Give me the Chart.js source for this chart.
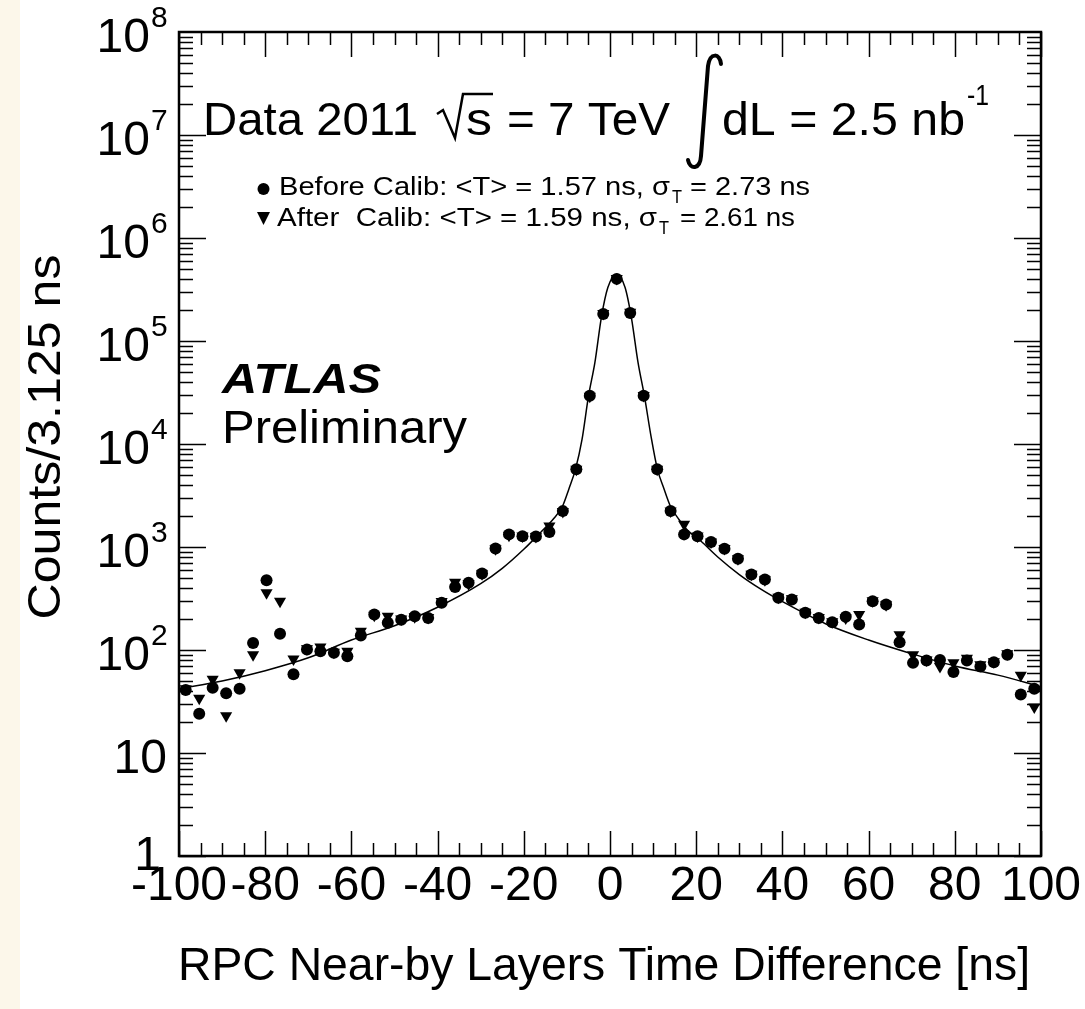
<!DOCTYPE html>
<html><head><meta charset="utf-8">
<script src="https://cdn.jsdelivr.net/npm/chart.js@4.4.0/dist/chart.umd.min.js"></script>
<style>html,body{margin:0;padding:0;background:#fff;overflow:hidden}canvas{display:block}</style>
</head><body>
<canvas id="c" width="1085" height="1009"></canvas>
<script>
// ---- data ----
const binCenters = [-98.44,-95.31,-92.19,-89.06,-85.94,-82.81,-79.69,-76.56,-73.44,-70.31,-67.19,-64.06,-60.94,-57.81,-54.69,-51.56,-48.44,-45.31,-42.19,-39.06,-35.94,-32.81,-29.69,-26.56,-23.44,-20.31,-17.19,-14.06,-10.94,-7.81,-4.69,-1.56,1.56,4.69,7.81,10.94,14.06,17.19,20.31,23.44,26.56,29.69,32.81,35.94,39.06,42.19,45.31,48.44,51.56,54.69,57.81,60.94,64.06,67.19,70.31,73.44,76.56,79.69,82.81,85.94,89.06,92.19,95.31,98.44];
const beforeCalib = [41,24,43,38,42,117,476,144,58,101,97,94,87,138,221,184,197,213,205,287,410,450,553,969,1326,1270,1262,1400,2230,5690,29400,183000,401000,187000,29400,5690,2234,1326,1270,1117,962,769,541,484,321,309,230,205,186,210,177,298,277,119,75,79,80,61,79,69,76,90,37,42];
const afterCalib = [42,34,52,23,60,90,359,298,82,103,107,95,97,152,218,213,200,210,207,295,454,440,550,960,1300,1280,1265,1600,2210,5700,29000,185000,405000,190000,29600,5700,2240,1660,1280,1120,965,770,545,480,325,315,232,207,188,205,221,300,275,141,90,80,69,75,83,72,77,92,57,28];
const fitX = [-100,-90,-80,-70,-60,-50,-40,-30,-25,-20,-16,-13,-11,-9.5,-8,-6.5,-5,-3.5,-2,-0.5,1.57,3.5,5,6.5,8,9.5,11,12.5,14,16,18,21,25,30,35,40,50,60,70,80,90,100];
const fitY = [42,50,63,84,125,172,260,440,620,950,1400,1900,2500,3700,5700,11000,29000,62000,170000,330000,445000,330000,165000,62000,29000,12000,5700,3700,2500,1850,1450,1150,800,540,390,295,180,125,92,70,57,44];
const xTickValues = [-100,-80,-60,-40,-20,0,20,40,60,80,100];
const xTickLabels = ['-100','-80','-60','-40','-20','0','20','40','60','80','100'];
const yTickValues = [1,10,100,1e3,1e4,1e5,1e6,1e7,1e8];
const yTickBase = ['1','10','10','10','10','10','10','10','10'];
const yTickExp = ['','','2','3','4','5','6','7','8'];

const FONT = '"Liberation Sans", Arial, sans-serif';

function txt(ctx, s, x, y, font, opts) {
  opts = opts || {};
  ctx.save();
  ctx.font = font; ctx.fillStyle = '#000';
  ctx.textBaseline = opts.baseline || 'alphabetic';
  const w = ctx.measureText(s).width;
  const sx = opts.width ? opts.width / w : (opts.sx || 1);
  let ax = x;
  if (opts.align === 'right') ax = x - w * sx;
  else if (opts.align === 'center') ax = x - w * sx / 2;
  ctx.translate(ax, y); ctx.scale(sx, opts.sy || 1);
  ctx.textAlign = 'left';
  ctx.fillText(s, 0, 0);
  ctx.restore();
}

const decor = {
  id: 'decor',
  beforeDraw(chart) {
    const ctx = chart.ctx;
    ctx.save();
    ctx.fillStyle = '#ffffff'; ctx.fillRect(0, 0, chart.width, chart.height);
    ctx.fillStyle = '#fcf7ea'; ctx.fillRect(0, 0, 20, chart.height);
    ctx.restore();
  },
  afterDraw(chart) {
    const ctx = chart.ctx, xs = chart.scales.x, ys = chart.scales.y, a = chart.chartArea;
    ctx.save();
    ctx.strokeStyle = '#000'; ctx.lineWidth = 1.5;
    // ticks on all four sides, pointing inward
    ctx.beginPath();
    for (let v = -100; v <= 100; v += 5) {
      const px = Math.round(xs.getPixelForValue(v)) + 0.5;
      const len = (v % 20 === 0) ? 25 : 13;
      ctx.moveTo(px, a.bottom); ctx.lineTo(px, a.bottom - len);
      ctx.moveTo(px, a.top); ctx.lineTo(px, a.top + len);
    }
    for (let e = 0; e < 8; e++) {
      for (let m = 1; m <= 9; m++) {
        const py = Math.round(ys.getPixelForValue(m * Math.pow(10, e))) + 0.5;
        const len = (m === 1) ? 27 : 14;
        ctx.moveTo(a.left, py); ctx.lineTo(a.left + len, py);
        ctx.moveTo(a.right, py); ctx.lineTo(a.right - len, py);
      }
    }
    ctx.stroke();
    ctx.lineWidth = 2.5;
    ctx.strokeRect(a.left, a.top, a.right - a.left, a.bottom - a.top);

    // x tick labels
    xTickValues.forEach((v, i) => {
      txt(ctx, xTickLabels[i], xs.getPixelForValue(v), a.bottom + 44, '48px ' + FONT, {align: 'center'});
    });
    // y tick labels
    yTickValues.forEach((v, i) => {
      const py = ys.getPixelForValue(v);
      if (yTickExp[i]) {
        txt(ctx, yTickBase[i], 150, py + 20, '48px ' + FONT, {align: 'right'});
        txt(ctx, yTickExp[i], 151, py - 5, '30px ' + FONT);
      } else if (yTickBase[i] === '10') {
        txt(ctx, yTickBase[i], 167, py + 20, '48px ' + FONT, {align: 'right'});
      } else {
        txt(ctx, yTickBase[i], 161, py + 14, '48px ' + FONT, {align: 'right'});
      }
    });
    // axis titles
    txt(ctx, 'RPC Near-by Layers Time Difference [ns]', 178, 980, '46px ' + FONT, {width: 852});
    ctx.save();
    ctx.translate(60, 437); ctx.rotate(-Math.PI / 2);
    txt(ctx, 'Counts/3.125 ns', 0, 0, '46px ' + FONT, {align: 'center', width: 365});
    ctx.restore();

    // header text
    txt(ctx, 'Data 2011', 203, 135, '46px ' + FONT, {width: 215});
    ctx.lineWidth = 2.5; ctx.lineJoin = 'miter';
    ctx.beginPath();
    ctx.moveTo(437, 114); ctx.lineTo(443, 110); ctx.lineTo(455, 138); ctx.lineTo(463, 94); ctx.lineTo(493, 94);
    ctx.stroke();
    txt(ctx, 's', 466, 135, '46px ' + FONT, {width: 26});
    txt(ctx, '= 7 TeV', 507, 135, '46px ' + FONT, {width: 163});
    // integral sign
    ctx.lineWidth = 4; ctx.lineCap = 'round';
    ctx.beginPath();
    ctx.moveTo(721, 64); ctx.bezierCurveTo(720, 53, 710, 52, 708, 66);
    ctx.lineTo(701, 156); ctx.bezierCurveTo(700, 170, 690, 170, 688, 160);
    ctx.stroke();
    txt(ctx, 'dL = 2.5 nb', 722, 135, '46px ' + FONT, {width: 243});
    txt(ctx, '-1', 967, 105, '30px ' + FONT, {width: 22});

    // legend
    const legFont = '25px ' + FONT, subFont = '18px ' + FONT;
    ctx.fillStyle = '#000';
    ctx.beginPath(); ctx.arc(263.5, 189, 6, 0, Math.PI * 2); ctx.fill();
    ctx.beginPath(); ctx.moveTo(257, 212); ctx.lineTo(270, 212); ctx.lineTo(263.5, 225); ctx.closePath(); ctx.fill();
    txt(ctx, 'Before Calib: <T> = 1.57 ns, \u03c3', 279, 195, legFont, {width: 391});
    txt(ctx, 'T', 672, 203, subFont, {width: 10});
    txt(ctx, '= 2.73 ns', 690, 195, legFont, {width: 120});
    txt(ctx, 'After  Calib: <T> = 1.59 ns, \u03c3', 277, 226, legFont, {width: 380});
    txt(ctx, 'T', 659, 234, subFont, {width: 10});
    txt(ctx, '= 2.61 ns', 680, 226, legFont, {width: 115});

    // ATLAS Preliminary
    txt(ctx, 'ATLAS', 222, 393, 'italic bold 42px ' + FONT, {width: 159});
    txt(ctx, 'Preliminary', 222, 443, '46px ' + FONT, {width: 245});
    ctx.restore();
  }
};

new Chart(document.getElementById('c').getContext('2d'), {
  type: 'scatter',
  data: {
    datasets: [
      {label: 'Before Calib', data: binCenters.map((x, i) => ({x: x, y: beforeCalib[i]})),
       pointStyle: 'circle', pointRadius: 6, backgroundColor: '#000', borderColor: '#000', borderWidth: 0, showLine: false},
      {label: 'After Calib', data: binCenters.map((x, i) => ({x: x, y: afterCalib[i]})),
       pointStyle: 'triangle', pointRotation: 180, pointRadius: 7, backgroundColor: '#000', borderColor: '#000', borderWidth: 0, showLine: false},
      {label: 'Fit', type: 'line', data: fitX.map((x, i) => ({x: x, y: fitY[i]})),
       borderColor: '#000', borderWidth: 1.5, pointRadius: 0, showLine: true, fill: false, cubicInterpolationMode: 'monotone'}
    ]
  },
  options: {
    responsive: false, animation: false, devicePixelRatio: 1,
    layout: {padding: {left: 179, right: 44, top: 32, bottom: 153}},
    plugins: {legend: {display: false}, tooltip: {enabled: false}},
    scales: {
      x: {type: 'linear', min: -100, max: 100, display: false},
      y: {type: 'logarithmic', min: 1, max: 1e8, display: false}
    }
  },
  plugins: [decor]
});
</script>
</body></html>
